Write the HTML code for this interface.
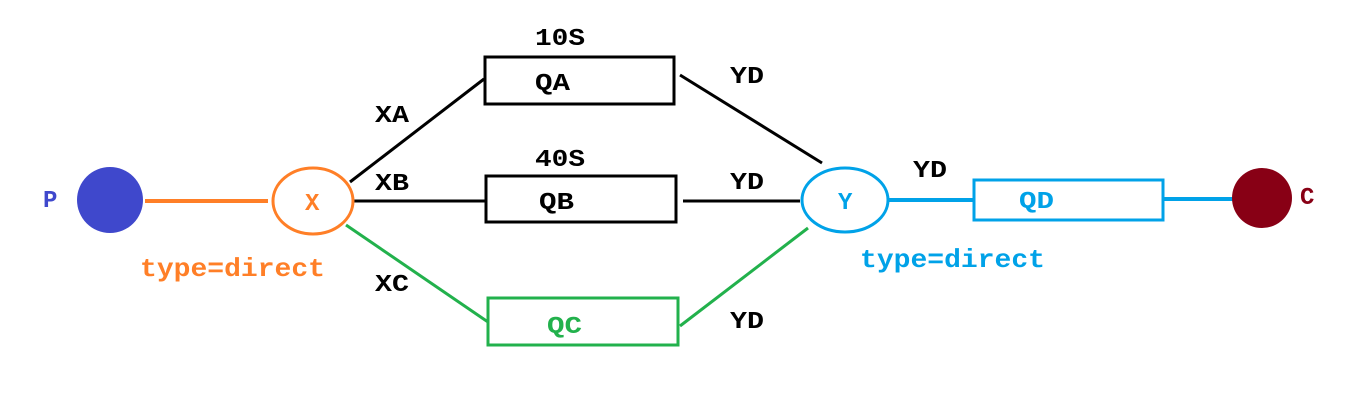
<!DOCTYPE html>
<html><head><meta charset="utf-8"><style>
html,body{margin:0;padding:0;background:#fff;}
svg{display:block;}
text{font-family:"Liberation Mono","DejaVu Sans Mono",monospace;font-weight:bold;}
</style></head><body>
<svg width="1363" height="403" viewBox="0 0 1363 403">
<line x1="145" y1="201" x2="268" y2="201" stroke="#ff7f27" stroke-width="4"/>
<line x1="350" y1="182" x2="484" y2="79" stroke="#000" stroke-width="3"/>
<line x1="353" y1="201" x2="485" y2="201" stroke="#000" stroke-width="3"/>
<line x1="346" y1="225" x2="488" y2="322" stroke="#22b14c" stroke-width="3"/>
<line x1="680" y1="75" x2="822" y2="163" stroke="#000" stroke-width="3"/>
<line x1="683" y1="201" x2="800" y2="201" stroke="#000" stroke-width="3"/>
<line x1="680" y1="326" x2="808" y2="228" stroke="#22b14c" stroke-width="3"/>
<line x1="889" y1="200" x2="973" y2="200" stroke="#00a2e8" stroke-width="4"/>
<line x1="1164" y1="199" x2="1233" y2="199" stroke="#00a2e8" stroke-width="4"/>
<circle cx="110" cy="200" r="33" fill="#3f48cc"/>
<text x="43" y="207" font-size="24" fill="#3f48cc">P</text>
<ellipse cx="313" cy="201" rx="40" ry="33" fill="#fff" stroke="#ff7f27" stroke-width="3"/>
<text x="305" y="210" font-size="24" fill="#ff7f27">X</text>
<text x="140" y="276" font-size="26" fill="#ff7f27" textLength="185" lengthAdjust="spacingAndGlyphs">type=direct</text>
<rect x="485" y="57" width="189" height="47" fill="#fff" stroke="#000" stroke-width="3"/>
<text x="535" y="90" font-size="24" fill="#000" textLength="35" lengthAdjust="spacingAndGlyphs">QA</text>
<text x="535" y="45" font-size="24" fill="#000" textLength="50" lengthAdjust="spacingAndGlyphs">10S</text>
<rect x="486" y="176" width="190" height="46" fill="#fff" stroke="#000" stroke-width="3"/>
<text x="539" y="209" font-size="24" fill="#000" textLength="35" lengthAdjust="spacingAndGlyphs">QB</text>
<text x="535" y="166" font-size="24" fill="#000" textLength="50" lengthAdjust="spacingAndGlyphs">40S</text>
<rect x="488" y="298" width="190" height="47" fill="#fff" stroke="#22b14c" stroke-width="3"/>
<text x="547" y="333" font-size="24" fill="#22b14c" textLength="35" lengthAdjust="spacingAndGlyphs">QC</text>
<ellipse cx="845" cy="200" rx="43" ry="32" fill="#fff" stroke="#00a2e8" stroke-width="3"/>
<text x="838" y="209" font-size="24" fill="#00a2e8">Y</text>
<text x="860" y="267" font-size="26" fill="#00a2e8" textLength="185" lengthAdjust="spacingAndGlyphs">type=direct</text>
<rect x="974" y="180" width="189" height="40" fill="#fff" stroke="#00a2e8" stroke-width="3"/>
<text x="1019" y="208" font-size="24" fill="#00a2e8" textLength="35" lengthAdjust="spacingAndGlyphs">QD</text>
<circle cx="1262" cy="198" r="30" fill="#880015"/>
<text x="1300" y="204" font-size="24" fill="#880015">C</text>
<text x="375" y="122" font-size="24" fill="#000" textLength="34" lengthAdjust="spacingAndGlyphs">XA</text>
<text x="375" y="190" font-size="24" fill="#000" textLength="34" lengthAdjust="spacingAndGlyphs">XB</text>
<text x="375" y="291" font-size="24" fill="#000" textLength="34" lengthAdjust="spacingAndGlyphs">XC</text>
<text x="730" y="83" font-size="24" fill="#000" textLength="34" lengthAdjust="spacingAndGlyphs">YD</text>
<text x="730" y="189" font-size="24" fill="#000" textLength="34" lengthAdjust="spacingAndGlyphs">YD</text>
<text x="730" y="328" font-size="24" fill="#000" textLength="34" lengthAdjust="spacingAndGlyphs">YD</text>
<text x="913" y="177" font-size="24" fill="#000" textLength="34" lengthAdjust="spacingAndGlyphs">YD</text>
</svg>
</body></html>
